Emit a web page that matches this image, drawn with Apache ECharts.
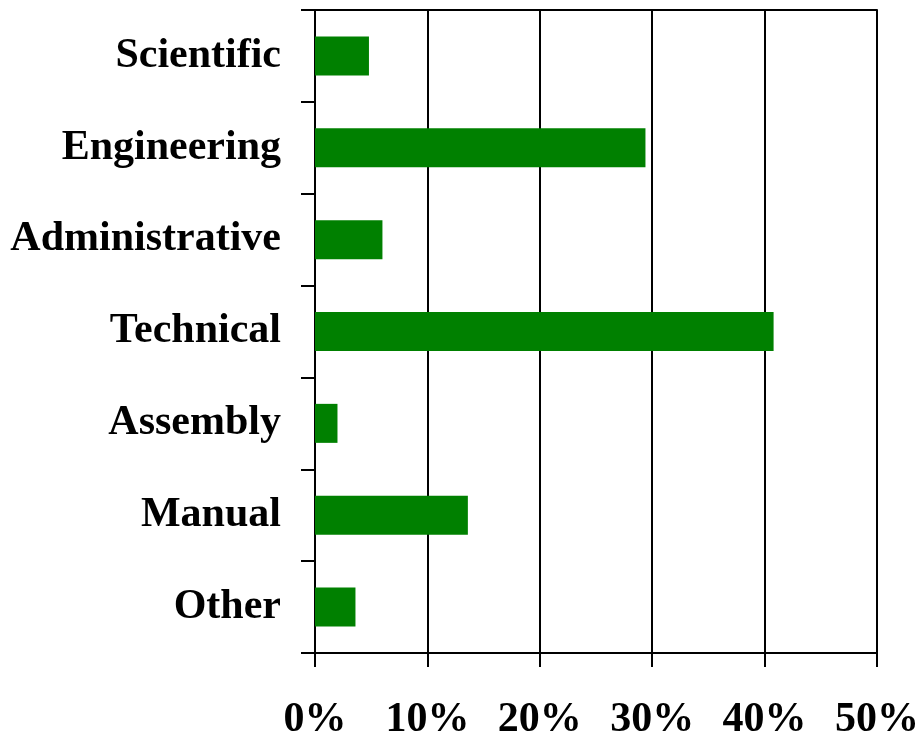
<!DOCTYPE html>
<html>
<head>
<meta charset="utf-8">
<script src="https://cdn.jsdelivr.net/npm/echarts@6/dist/echarts.min.js"></script>
<style>
  html, body { margin: 0; padding: 0; background: #fff; }
  #chart { width: 922px; height: 737px; }
</style>
</head>
<body>
<div id="chart"></div>
<script>
// categories, top to bottom
const categories = ['Scientific', 'Engineering', 'Administrative', 'Technical', 'Assembly', 'Manual', 'Other']
// share of each category, in percent
const shares = [4.8, 29.4, 6.0, 40.8, 2.0, 13.6, 3.6]
// x axis ticks
const xTicks = [0, 10, 20, 30, 40, 50]

const fontFamily = "'Liberation Serif', 'Times New Roman', serif"

const chart = echarts.init(document.getElementById('chart'))

const option = {
  animation: false,
  grid: { left: 315, right: 45, top: 10, bottom: 84, outerBoundsMode: 'none', containLabel: false },
  xAxis: [
    {
      type: 'value',
      position: 'bottom',
      min: xTicks[0],
      max: xTicks[xTicks.length - 1],
      interval: 10,
      axisLine: { show: true, lineStyle: { color: '#000', width: 2 } },
      axisTick: { show: true, length: 14, lineStyle: { color: '#000', width: 2 } },
      axisLabel: {
        formatter: '{value}%',
        fontFamily: fontFamily,
        fontWeight: 'bold',
        fontSize: 42,
        color: '#000',
        margin: 46
      },
      splitLine: { show: true, lineStyle: { color: '#000', width: 2 } }
    },
    {
      type: 'value',
      position: 'top',
      min: xTicks[0],
      max: xTicks[xTicks.length - 1],
      interval: 10,
      axisLine: { show: true, lineStyle: { color: '#000', width: 2 } },
      axisTick: { show: false },
      axisLabel: { show: false },
      splitLine: { show: false }
    }
  ],
  yAxis: {
    type: 'category',
    inverse: true,
    data: categories,
    axisLine: { show: true, lineStyle: { color: '#000', width: 2 } },
    axisTick: { show: true, length: 14, lineStyle: { color: '#000', width: 2 } },
    axisLabel: {
      fontFamily: fontFamily,
      fontWeight: 'bold',
      fontSize: 42,
      color: '#000',
      margin: 34,
      padding: [4, 0, 0, 0]
    },
    splitLine: { show: false }
  },
  series: [
    {
      type: 'bar',
      data: shares,
      barWidth: 39,
      itemStyle: { color: '#008000' }
    }
  ]
}

chart.setOption(option)
</script>
</body>
</html>
